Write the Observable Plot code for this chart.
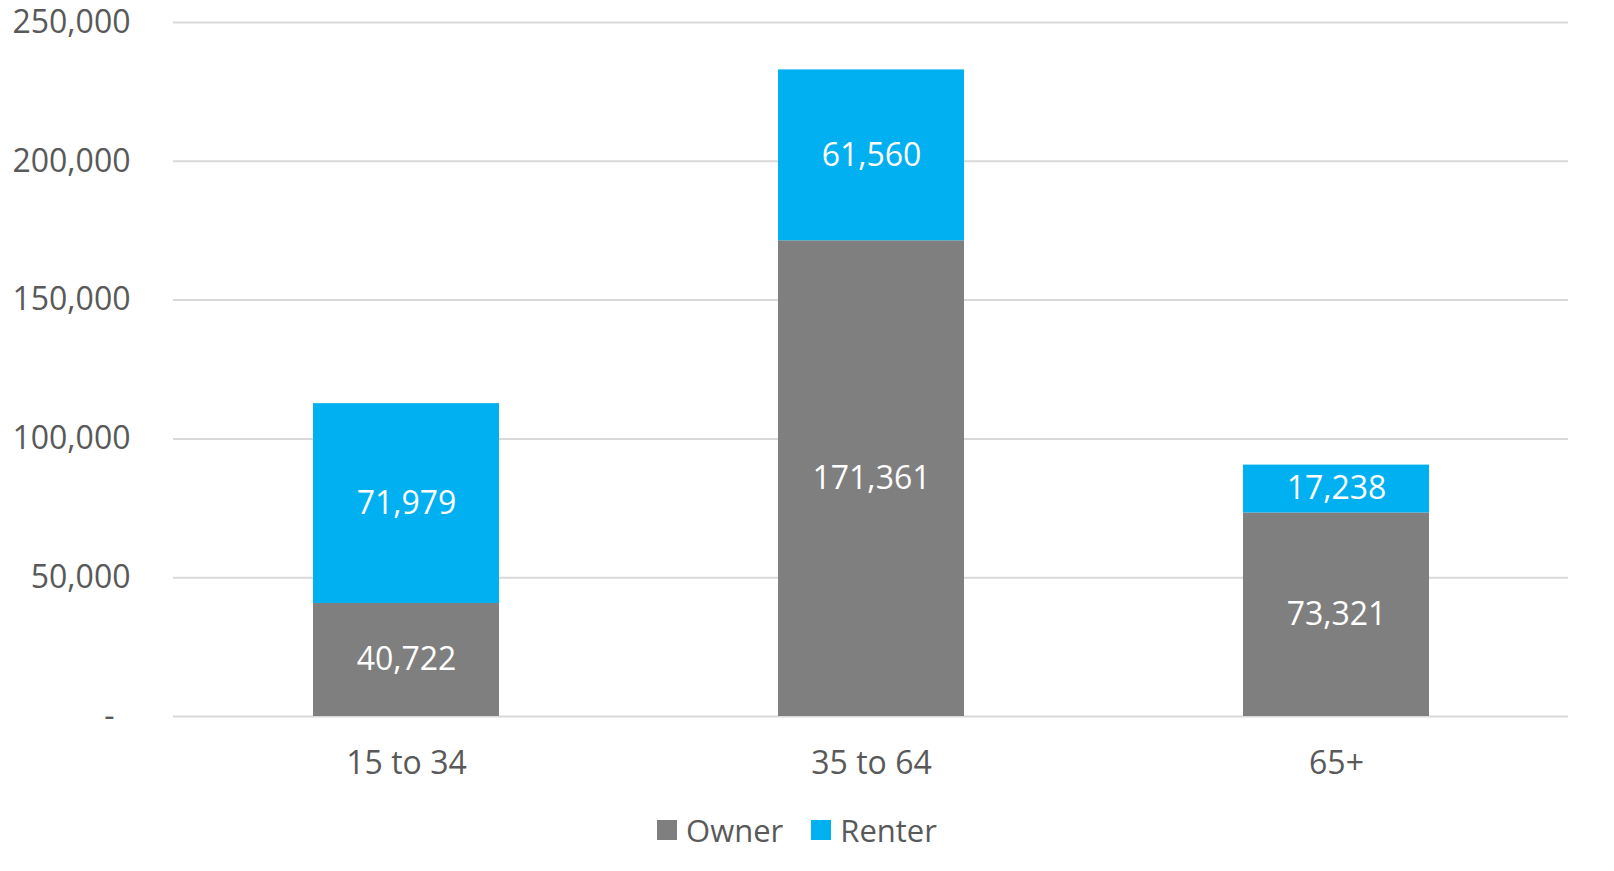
<!DOCTYPE html>
<html>
<head>
<meta charset="utf-8">
<script src="https://cdn.jsdelivr.net/npm/d3@7"></script>
<script src="https://cdn.jsdelivr.net/npm/@observablehq/plot@0.6"></script>
<style>
  html, body { margin: 0; padding: 0; background: #fff; }
  body { width: 1614px; height: 871px; overflow: hidden; font-family: "Open Sans", sans-serif; }
  #legend { display: flex; justify-content: center; align-items: center; height: 40px; padding-top: 10px; margin-left: -20px; color: #595959; font-size: 31px; }
  .item { display: flex; align-items: center; margin: 0 14px; }
  .sw { width: 20px; height: 20px; margin-right: 9px; }
</style>
</head>
<body>
<div id="chart"></div>
<div id="legend"></div>
<script>
const categories = ["15 to 34", "35 to 64", "65+"];
const seriesNames = ["Owner", "Renter"];
const ownerValues = [40722, 171361, 73321];
const renterValues = [71979, 61560, 17238];
const yTicks = [0, 50000, 100000, 150000, 200000, 250000];
const colors = ["#7f7f7f", "#00b0f0"];

const data = [];
categories.forEach((c, i) => {
  data.push({category: c, series: "Owner", value: ownerValues[i]});
  data.push({category: c, series: "Renter", value: renterValues[i]});
});

const fmt = d3.format(",");
const textColor = "#595959";

const chart = Plot.plot({
  width: 1614,
  height: 800,
  marginTop: 22,
  marginBottom: 84,
  marginLeft: 173,
  marginRight: 46,
  style: { fontFamily: "'Open Sans', sans-serif", fontSize: "32px", color: textColor, background: "#fff" },
  x: { domain: categories, paddingInner: 0.6, paddingOuter: 0.3, label: null },
  y: { domain: [0, 250000], label: null },
  color: { domain: seriesNames, range: colors },
  marks: [
    Plot.ruleY(yTicks, { stroke: "#d9d9d9", strokeWidth: 2 }),
    Plot.barY(data, Plot.stackY({ x: "category", y: "value", fill: "series", order: seriesNames })),
    Plot.text(data, Plot.stackY({ x: "category", y: "value", z: "series", order: seriesNames, text: d => fmt(d.value), fill: "white", fontSize: 32 })),
    Plot.axisY({ ticks: yTicks, tickSize: 0, tickPadding: 43, tickFormat: d => d === 0 ? "-\u2002" : fmt(d), fill: textColor, fontSize: 32, label: null }),
    Plot.axisX({ tickSize: 0, tickPadding: 35, fill: textColor, fontSize: 32, label: null })
  ]
});
document.getElementById("chart").appendChild(chart);

const legend = document.getElementById("legend");
seriesNames.forEach((s, i) => {
  const item = document.createElement("div");
  item.className = "item";
  const sw = document.createElement("div");
  sw.className = "sw";
  sw.style.background = colors[i];
  const t = document.createElement("span");
  t.textContent = s;
  item.appendChild(sw);
  item.appendChild(t);
  legend.appendChild(item);
});
</script>
</body>
</html>
